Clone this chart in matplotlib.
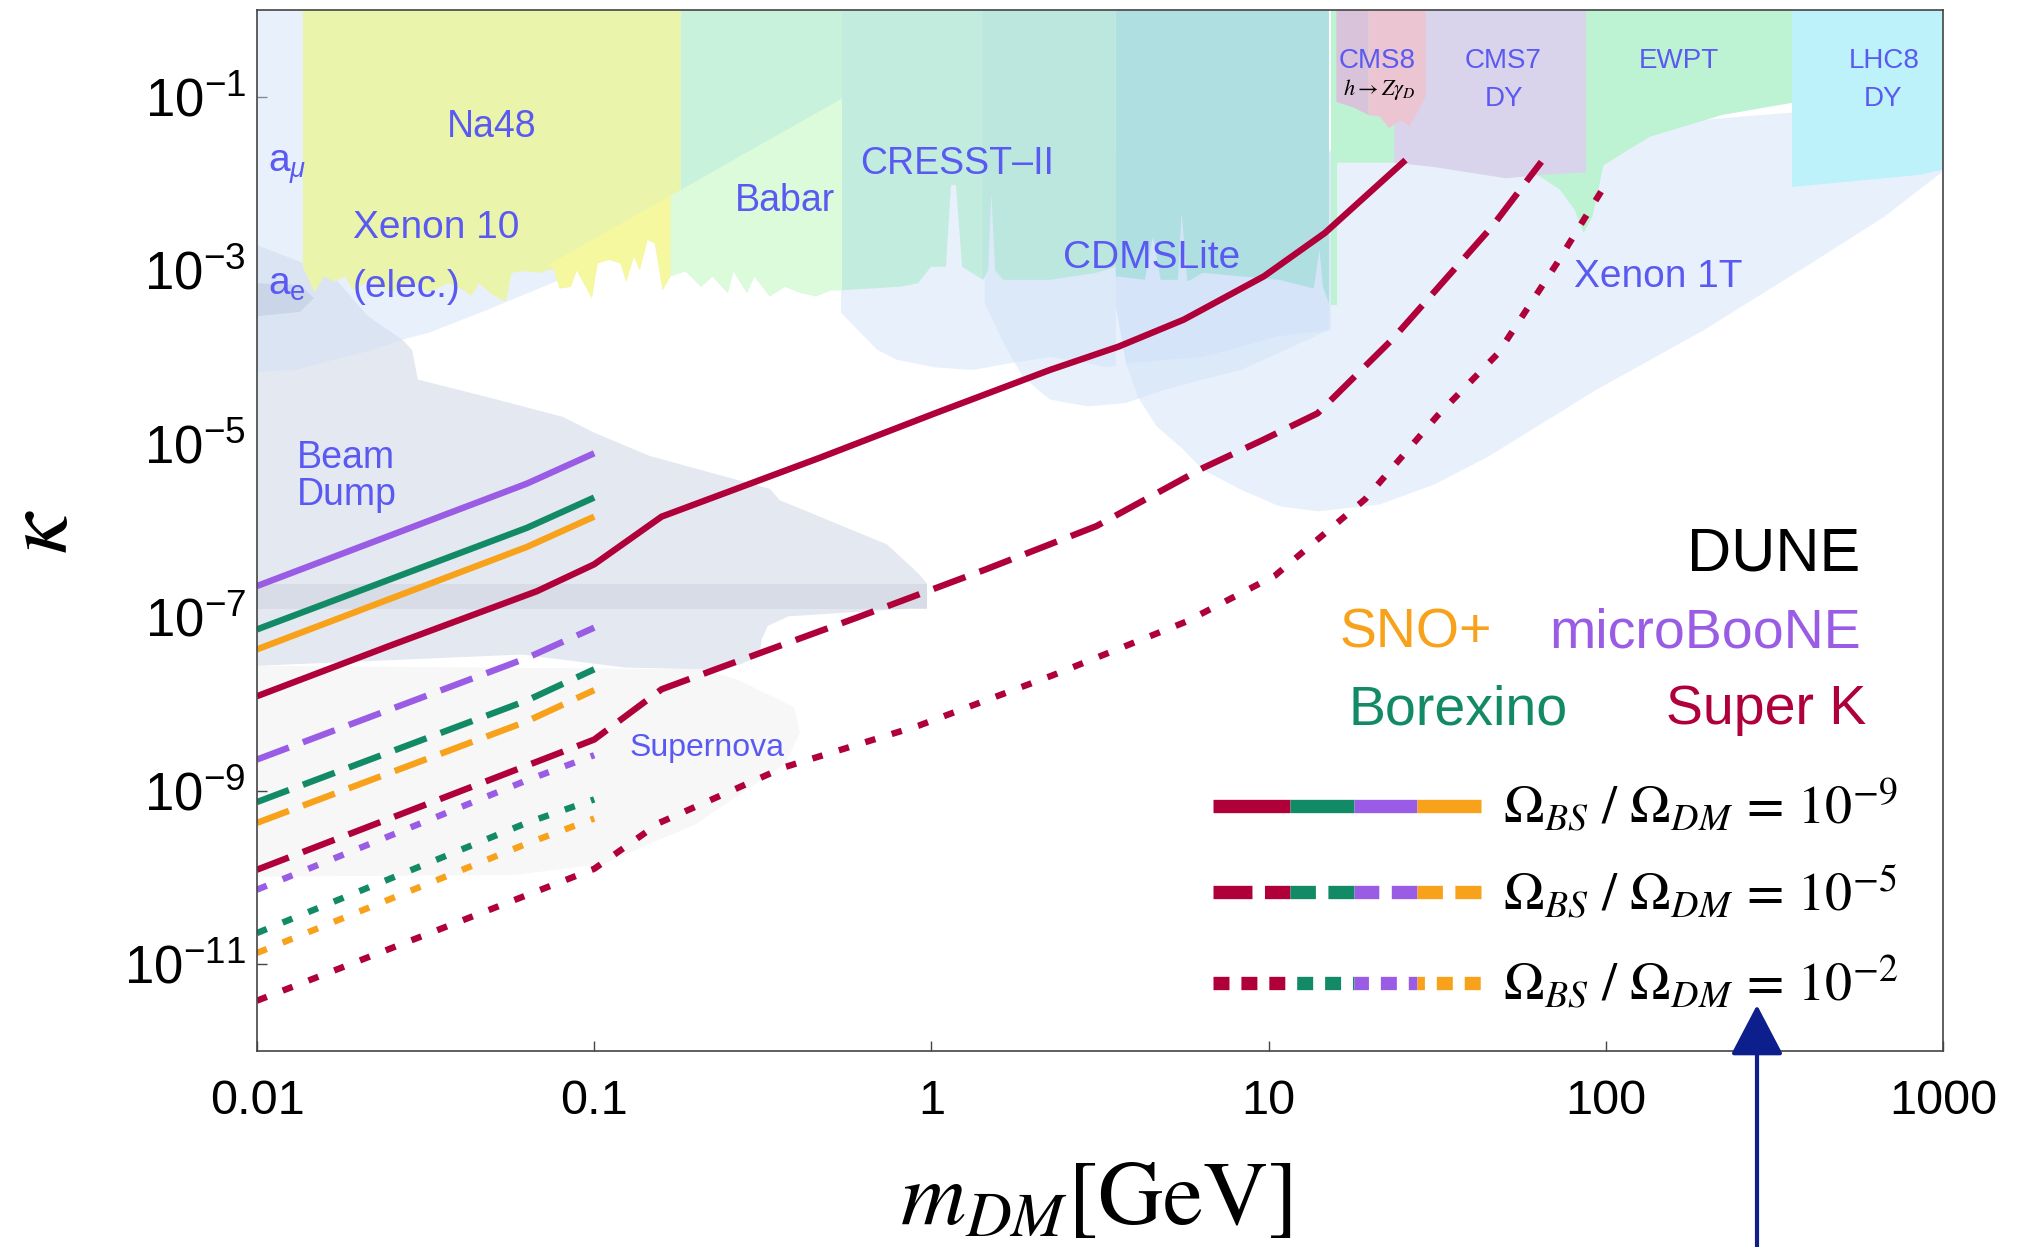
import numpy as np
import matplotlib
matplotlib.use('Agg')
import matplotlib.pyplot as plt
from matplotlib.ticker import NullLocator

plt.rcParams['font.family'] = ['Liberation Sans', 'DejaVu Sans']
plt.rcParams['mathtext.fontset'] = 'custom'
plt.rcParams['mathtext.rm'] = 'Liberation Sans'
plt.rcParams['mathtext.it'] = 'Liberation Sans:italic'
plt.rcParams['mathtext.bf'] = 'Liberation Sans:bold'
plt.rcParams['lines.scale_dashes'] = False

# ---------------- data ----------------
X_TICKS = [0.01, 0.1, 1, 10, 100, 1000]
X_TICK_LABELS = ['0.01', '0.1', '1', '10', '100', '1000']
Y_TICKS = [1e-1, 1e-3, 1e-5, 1e-7, 1e-9, 1e-11]
Y_TICK_LABELS = [r'$10^{-1}$', r'$10^{-3}$', r'$10^{-5}$', r'$10^{-7}$', r'$10^{-9}$', r'$10^{-11}$']

# Super K sensitivity curves (log10 m [GeV], log10 kappa)
SK_SOLID_LOGM = [-2.0, -1.6, -1.17, -1.0, -0.8, -0.33, 0.01, 0.351, 0.555, 0.748, 0.986, 1.167, 1.406]
SK_SOLID_LOGK = [-7.91, -7.32, -6.70, -6.39, -5.84, -5.16, -4.65, -4.15, -3.88, -3.57, -3.07, -2.57, -1.73]
SK_DASH_LOGM = [-2.0, -1.0, -0.80, -0.64, -0.225, 0.16, 0.489, 0.805, 0.981, 1.145, 1.366, 1.473, 1.664, 1.809]
SK_DASH_LOGK = [-9.91, -8.41, -7.83, -7.60, -7.01, -6.45, -5.95, -5.28, -4.96, -4.65, -3.80, -3.33, -2.49, -1.75]
SK_DOT_LOGM = [-2.0, -1.0, -0.807, -0.437, -0.038, 0.359, 0.756, 1.019, 1.286, 1.50, 1.68, 1.855, 2.004]
SK_DOT_LOGK = [-11.42, -9.90, -9.37, -8.73, -8.25, -7.67, -7.05, -6.52, -5.64, -4.68, -3.96, -2.92, -1.98]

# Low-mass detectors (microBooNE, Borexino, SNO+)
LOW_LOGM = [-2.0, -1.2, -1.0]
UB_SOLID_LOGK = [-6.64, -5.46, -5.11]
BX_SOLID_LOGK = [-7.14, -5.97, -5.62]
SNO_SOLID_LOGK = [-7.37, -6.19, -5.84]
UB_DASH_LOGK = [-8.64, -7.47, -7.12]
BX_DASH_LOGK = [-9.13, -7.96, -7.60]
SNO_DASH_LOGK = [-9.37, -8.20, -7.84]
UB_DOT_LOGK = [-10.14, -8.88, -8.59]
BX_DOT_LOGK = [-10.64, -9.37, -9.10]
SNO_DOT_LOGK = [-10.87, -9.61, -9.32]

# Excluded regions (polygon vertices, log10 m, log10 kappa)
SUPERNOVA_LOGM = [-2.0, -0.674, -0.568, -0.407, -0.390, -0.434, -0.701, -0.835, -0.968, -1.235, -2.0]
SUPERNOVA_LOGK = [-7.56, -7.60, -7.73, -8.04, -8.33, -8.69, -9.39, -9.61, -9.84, -9.97, -9.99]

BEAMDUMP_LOGM = [-2.0, -1.887, -1.773, -1.671, -1.569, -1.540, -1.523, -1.319, -1.093, -1.001, -0.836,
                 -0.479, -0.450, -0.132, -0.040, -0.013, -0.013, -0.066, -0.425, -0.485, -0.502, -0.511,
                 -0.571, -0.674, -0.909, -1.214, -2.0]
BEAMDUMP_LOGK = [-2.71, -2.88, -3.07, -3.53, -3.80, -3.92, -4.26, -4.46, -4.69, -4.87, -5.14,
                 -5.52, -5.65, -6.16, -6.49, -6.61, -6.90, -6.90, -6.99, -7.10, -7.24, -7.45,
                 -7.55, -7.60, -7.58, -7.43, -7.56]
BAND_LOGM = [-2.0, -0.013, -0.013, -2.0]
BAND_LOGK = [-6.62, -6.62, -6.90, -6.90]
AE_BAND_LOGM = [-2.0, -1.872, -1.831, -1.872, -2.0]
AE_BAND_LOGK = [-3.15, -3.17, -3.32, -3.48, -3.53]

AMU_LOGM = [-2.0, -1.101, -1.101, -1.319, -1.490, -1.569, -1.660, -1.773, -1.887, -2.0]
AMU_LOGK = [0.0, 0.0, -3.11, -3.46, -3.72, -3.80, -3.92, -4.03, -4.15, -4.17]

LOBE1_LOGM = [-0.268, 0.547, 0.547, 0.521, 0.464, 0.352, 0.236, 0.123, 0.011, -0.104, -0.160, -0.218, -0.268]
LOBE1_LOGK = [-1.61, -1.61, -4.10, -4.12, -4.07, -4.00, -4.07, -4.15, -4.12, -4.03, -3.92, -3.69, -3.49]
LOBE2_LOGM = [0.158, 1.179, 1.179, 0.918, 0.805, 0.690, 0.577, 0.464, 0.351, 0.271, 0.214, 0.158]
LOBE2_LOGK = [-1.61, -1.61, -3.69, -4.15, -4.26, -4.38, -4.53, -4.57, -4.49, -4.23, -3.84, -3.38]
LOBE3_LOGM = [0.547, 1.185, 1.185, 1.031, 0.805, 0.577, 0.547]
LOBE3_LOGK = [-1.61, -1.61, -3.69, -3.76, -4.00, -4.07, -3.41]
XENON1T_LOGM = [0.547, 1.203, 3.0, 3.0, 2.827, 2.613, 2.291, 1.971, 1.651, 1.491, 1.330, 1.145,
                1.031, 0.918, 0.805, 0.748, 0.668, 0.612, 0.577, 0.547]
XENON1T_LOGK = [-2.76, -1.61, -1.04, -1.86, -2.38, -2.91, -3.69, -4.38, -5.15, -5.47, -5.70, -5.78,
                -5.72, -5.53, -5.30, -5.07, -4.80, -4.46, -4.07, -3.41]

# jagged lower edge of Na48 / Xenon10 / Babar
JAG_LOGM = [-1.864, -1.830, -1.801, -1.773, -1.739, -1.716, -1.660, -1.603, -1.546, -1.489, -1.432,
            -1.387, -1.364, -1.342, -1.296, -1.262, -1.245, -1.206, -1.160, -1.120, -1.103, -1.069,
            -1.052, -1.007, -0.990, -0.956, -0.922, -0.905, -0.882, -0.865, -0.842, -0.820, -0.797,
            -0.774, -0.729, -0.683, -0.649, -0.604, -0.587, -0.547, -0.525, -0.479, -0.434, -0.388,
            -0.343, -0.298, -0.265]
JAG_LOGK = [-2.96, -3.26, -3.07, -3.13, -3.07, -3.23, -3.11, -3.26, -3.13, -3.25, -3.15,
            -3.23, -3.30, -3.15, -3.30, -3.36, -3.03, -3.01, -3.03, -2.98, -3.21, -3.19,
            -3.00, -3.32, -2.92, -2.88, -2.92, -3.13, -2.84, -3.00, -2.65, -2.69, -3.23,
            -3.07, -3.01, -3.19, -3.07, -3.26, -3.01, -3.26, -3.07, -3.30, -3.19, -3.26,
            -3.30, -3.23, -3.23]
NA48_EDGE_LOGM = [-1.864, -0.743, -0.743]
NA48_EDGE_LOGK = [0.0, 0.0, -2.07]
BABAR_EDGE_LOGM = [-0.743, -0.265, -0.265]
BABAR_EDGE_LOGK = [0.0, 0.0, -3.23]
DIAG_LOGM = [-1.137, -0.774, -0.265]
DIAG_LOGK = [-2.94, -2.14, -1.02]

CRESST_A_LOGM = [-0.265, 0.153, 0.153, 0.091, 0.073, 0.058, 0.043, -0.001, -0.040, -0.093, -0.265]
CRESST_A_LOGK = [0.0, 0.0, -3.11, -2.96, -2.02, -2.02, -2.96, -2.96, -3.15, -3.19, -3.23]
CRESST_B_LOGM = [0.153, 0.547, 0.547, 0.488, 0.352, 0.212, 0.189, 0.178, 0.168, 0.153]
CRESST_B_LOGK = [0.0, 0.0, -2.96, -3.03, -3.11, -3.11, -3.00, -2.10, -3.00, -3.11]
CDMS_LOGM = [0.547, 1.179, 1.179, 1.161, 1.151, 1.134, 1.031, 0.918, 0.805, 0.759, 0.742, 0.731,
             0.680, 0.657, 0.633, 0.547]
CDMS_LOGK = [0.0, 0.0, -3.38, -3.19, -2.76, -3.21, -3.11, -3.07, -3.03, -3.13, -2.34, -3.11,
             -3.11, -2.61, -3.11, -3.07]
EWPT_LOGM = [1.185, 2.552, 2.552, 2.345, 2.131, 1.993, 1.961, 1.934, 1.907, 1.864, 1.790, 1.378,
             1.203, 1.203, 1.185]
EWPT_LOGK = [0.0, 0.0, -1.07, -1.21, -1.46, -1.79, -2.38, -2.57, -2.30, -2.07, -1.88, -1.76,
             -1.76, -3.40, -3.40]
CMS7_LOGM = [1.378, 1.941, 1.941, 1.811, 1.704, 1.491, 1.372]
CMS7_LOGK = [0.0, 0.0, -1.87, -1.90, -1.94, -1.81, -1.76]
CMS8A_LOGM = [1.201, 1.296, 1.296, 1.256, 1.201]
CMS8A_LOGK = [0.0, 0.0, -1.21, -1.13, -1.06]
CMS8B_LOGM = [1.296, 1.466, 1.466, 1.418, 1.391, 1.357, 1.330, 1.296]
CMS8B_LOGK = [0.0, 0.0, -1.00, -1.34, -1.27, -1.36, -1.23, -1.21]
LHC8_LOGM = [2.552, 3.0, 3.0, 2.933, 2.552]
LHC8_LOGK = [0.0, 0.0, -1.84, -1.90, -2.04]

LEGEND_RATIOS = [r'$\Omega_{BS}\ /\ \Omega_{DM}\, =\, 10^{-9}$',
                 r'$\Omega_{BS}\ /\ \Omega_{DM}\, =\, 10^{-5}$',
                 r'$\Omega_{BS}\ /\ \Omega_{DM}\, =\, 10^{-2}$']

# ---------------- styles ----------------
RED = '#b0003a'
GREEN = '#138a66'
PURPLE = '#9a5ce5'
ORANGE = '#f8a21b'
LABEL_BLUE = '#5a5af2'
BLUE_FILL = '#cee0f8'
DASHED = (0, (24.5, 10.8))
DOTTED = (0, (7.6, 12.3))
LW = 4.6

fig = plt.figure(figsize=(20.17, 12.47), dpi=100)
ax = fig.add_axes([257 / 2017, 1 - 1051 / 1247, 1686 / 2017, 1041 / 1247])
ax.set_xscale('log')
ax.set_yscale('log')
ax.set_xlim(0.01, 1000)
ax.set_ylim(1e-12, 1)


def P(a):
    return 10.0 ** np.asarray(a, dtype=float)


def region(lm, lk, color, alpha=1.0, z=1):
    ax.fill(P(lm), P(lk), color=color, alpha=alpha, lw=0, zorder=z)


jm = np.array(JAG_LOGM)
jk = np.array(JAG_LOGK)

# lower layers
region(SUPERNOVA_LOGM, SUPERNOVA_LOGK, '#f7f7f7', z=1)
region(BEAMDUMP_LOGM, BEAMDUMP_LOGK, '#e4e8f0', z=2)
region(BAND_LOGM, BAND_LOGK, '#6b7890', alpha=0.10, z=2.5)
for lm, lk in [(AMU_LOGM, AMU_LOGK), (LOBE1_LOGM, LOBE1_LOGK), (LOBE2_LOGM, LOBE2_LOGK),
               (LOBE3_LOGM, LOBE3_LOGK), (XENON1T_LOGM, XENON1T_LOGK)]:
    region(lm, lk, BLUE_FILL, alpha=0.45, z=3)
region(AE_BAND_LOGM, AE_BAND_LOGK, '#8a9cc0', alpha=0.2, z=3.2)

# top excluded regions
sel = jm < NA48_EDGE_LOGM[1]
region(NA48_EDGE_LOGM + list(jm[sel][::-1]), NA48_EDGE_LOGK + list(jk[sel][::-1]), '#eaf4ab', z=4)
sel = jm >= DIAG_LOGM[1]
region(BABAR_EDGE_LOGM + list(jm[sel][::-1]) + [NA48_EDGE_LOGM[2]],
       BABAR_EDGE_LOGK + list(jk[sel][::-1]) + [NA48_EDGE_LOGK[2]], '#c9f2dc', z=4)
region(DIAG_LOGM[1:] + list(jm[sel][::-1]), DIAG_LOGK[1:] + list(jk[sel][::-1]), '#dbfbdb', z=4.1)
sel = (jm >= DIAG_LOGM[0]) & (jm <= DIAG_LOGM[1])
region(DIAG_LOGM[:2] + list(jm[sel][::-1]), DIAG_LOGK[:2] + list(jk[sel][::-1]), '#f6f8a0', z=4.1)
region(CRESST_A_LOGM, CRESST_A_LOGK, '#c2ecde', z=4)
region(CRESST_B_LOGM, CRESST_B_LOGK, '#bbe7df', z=4)
region(CDMS_LOGM, CDMS_LOGK, '#b0dfe2', z=4)
region(EWPT_LOGM, EWPT_LOGK, '#bdf2d3', z=4)
region(CMS7_LOGM, CMS7_LOGK, '#dad3ec', z=4.1)
region(CMS8A_LOGM, CMS8A_LOGK, '#d9c3da', z=4.2)
region(CMS8B_LOGM, CMS8B_LOGK, '#ebc6d2', z=4.2)
region(LHC8_LOGM, LHC8_LOGK, '#bdf2fb', z=4)

# region labels
def rlabel(s, lm, lk, size=27, ha='left', color=LABEL_BLUE, **kw):
    ax.text(10 ** lm, 10 ** lk, s, fontsize=size, ha=ha, va='baseline', color=color, zorder=5, **kw)

rlabel(r'a$_\mu$', -1.967, -1.87, size=28)
rlabel('Na48', -1.303, -1.46, ha='center')
rlabel('Xenon 10', -1.715, -2.63, size=28)
rlabel('(elec.)', -1.715, -3.31, size=28)
rlabel(r'a$_\mathrm{e}$', -1.967, -3.28, size=28)
rlabel('Beam', -1.881, -5.28)
rlabel('Dump', -1.881, -5.71)
rlabel('Babar', -0.582, -2.32)
rlabel('CRESST\u2013II', -0.212, -1.89)
rlabel('CDMSLite', 0.390, -2.97, size=28)
rlabel('CMS8', 1.323, -0.67, size=20, ha='center')
rlabel(r'$h \rightarrow Z\gamma_D$', 1.329, -0.98, size=16, ha='center', color='black',
       math_fontfamily='stix')
rlabel('CMS7', 1.694, -0.67, size=20, ha='center')
rlabel('DY', 1.697, -1.11, size=20, ha='center')
rlabel('EWPT', 2.217, -0.67, size=20, ha='center')
rlabel('LHC8', 2.825, -0.67, size=20, ha='center')
rlabel('DY', 2.822, -1.11, size=20, ha='center')
rlabel('Xenon 1T', 1.906, -3.19, size=28)
rlabel('Supernova', -0.894, -8.60, size=23)

# curves
def curve(lm, lk, color, ls):
    ax.plot(P(lm), P(lk), color=color, lw=LW, linestyle=ls, zorder=6,
            solid_capstyle='butt', dash_capstyle='butt', solid_joinstyle='round')

curve(SK_SOLID_LOGM, SK_SOLID_LOGK, RED, '-')
curve(SK_DASH_LOGM, SK_DASH_LOGK, RED, DASHED)
curve(SK_DOT_LOGM, SK_DOT_LOGK, RED, DOTTED)
for lk, col in [(UB_SOLID_LOGK, PURPLE), (BX_SOLID_LOGK, GREEN), (SNO_SOLID_LOGK, ORANGE)]:
    curve(LOW_LOGM, lk, col, '-')
for lk, col in [(UB_DASH_LOGK, PURPLE), (BX_DASH_LOGK, GREEN), (SNO_DASH_LOGK, ORANGE)]:
    curve(LOW_LOGM, lk, col, DASHED)
for lk, col in [(UB_DOT_LOGK, PURPLE), (BX_DOT_LOGK, GREEN), (SNO_DOT_LOGK, ORANGE)]:
    curve(LOW_LOGM, lk, col, DOTTED)

# legend block
tr = ax.transAxes
ax.text(0.9508, 0.4614, 'DUNE', transform=tr, fontsize=44, ha='right', va='baseline', zorder=7)
ax.text(0.6418, 0.3878, 'SNO+', transform=tr, fontsize=40, color=ORANGE, va='baseline', zorder=7)
ax.text(0.7663, 0.3878, 'microBooNE', transform=tr, fontsize=40, color=PURPLE, va='baseline', zorder=7)
ax.text(0.6471, 0.3141, 'Borexino', transform=tr, fontsize=40, color=GREEN, va='baseline', zorder=7)
ax.text(0.8357, 0.3141, 'Super K', transform=tr, fontsize=40, color=RED, va='baseline', zorder=7)

seg_edges = [0.5670, 0.6127, 0.6507, 0.6880, 0.7260]
seg_cols = [RED, GREEN, PURPLE, ORANGE]
rows_y = [0.2357, 0.1523, 0.0657]
px_per_pt = 100 / 72.0
ax_w_px = 1686.0
patterns = [None, ((36.7, 9.0), 0.5670 - 12 / ax_w_px), ((11.5, 8.6), 0.5670)]
for y, pat, txt in zip(rows_y, patterns, LEGEND_RATIOS):
    for i, col in enumerate(seg_cols):
        x0, x1 = seg_edges[i], seg_edges[i + 1]
        if pat is None:
            ls = '-'
        else:
            (on, off), origin = pat
            off_pts = ((x0 - origin) * ax_w_px / px_per_pt) % (on + off)
            ls = (off_pts, (on, off))
        ax.plot([x0, x1], [y, y], transform=tr, color=col, lw=9.6, linestyle=ls,
                solid_capstyle='butt', dash_capstyle='butt', zorder=7)
    ax.text(0.7393, y, txt, transform=tr, fontsize=39, math_fontfamily='stix',
            ha='left', va='center', zorder=7)

# axes styling
ax.set_xticks(X_TICKS)
ax.set_xticklabels(X_TICK_LABELS)
ax.set_yticks(Y_TICKS)
ax.set_yticklabels(Y_TICK_LABELS)
ax.xaxis.set_minor_locator(NullLocator())
ax.yaxis.set_minor_locator(NullLocator())
ax.tick_params(direction='in', length=7, width=1.0, color='#444444', top=False, right=False)
ax.tick_params(axis='x', labelsize=35, pad=20)
ax.tick_params(axis='y', labelsize=38, pad=8)
for sp in ax.spines.values():
    sp.set_color('#444444')
    sp.set_linewidth(1.2)
    sp.set_zorder(8)

fig.text(1096 / 2017, 1 - 1200 / 1247, r'$m_{DM}[\mathrm{GeV}]$', fontsize=65,
         math_fontfamily='stix', ha='center', va='center')
fig.text(43 / 2017, 1 - 532 / 1247, r'$\kappa$', fontsize=66, rotation=90,
         math_fontfamily='stix', ha='center', va='center')

# arrow
ax.annotate('', xy=(1757 / 2017, 1 - 1005 / 1247), xycoords='figure fraction',
            xytext=(1757 / 2017, 0.0), textcoords='figure fraction',
            arrowprops=dict(arrowstyle='-|>,head_length=1.05,head_width=0.55', color='#0d1f8c',
                            lw=3, mutation_scale=30, shrinkA=0, shrinkB=0),
            annotation_clip=False, zorder=20)

fig.savefig('out.png', dpi=100)
